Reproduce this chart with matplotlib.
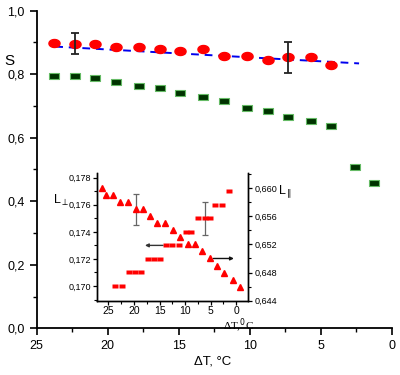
import numpy as np
import matplotlib
matplotlib.use("Agg")
import matplotlib.pyplot as plt
from matplotlib.path import Path
from matplotlib.ticker import FuncFormatter, MultipleLocator, FixedLocator

plt.rcParams['font.family'] = ['Liberation Sans', 'DejaVu Sans']

# ---------------- main data ----------------
dt_main = [23.76, 22.28, 20.9, 19.42, 17.8, 16.3, 14.9, 13.3, 11.8, 10.2, 8.7, 7.3, 5.7, 4.3]
s_circ = [0.897, 0.896, 0.894, 0.886, 0.885, 0.880, 0.874, 0.879, 0.858, 0.857, 0.846, 0.853, 0.853, 0.828]
err_x = [22.28, 7.3]
err_y = [0.896, 0.853]
err_e = [0.033, 0.048]
fit_x = [23.7, 2.3]
fit_y = [0.887, 0.834]

dt_sq = [23.76, 22.28, 20.9, 19.42, 17.8, 16.3, 14.9, 13.3, 11.8, 10.2, 8.7, 7.3, 5.7, 4.3, 2.6, 1.25]
s_sq = [0.793, 0.793, 0.788, 0.776, 0.764, 0.757, 0.740, 0.729, 0.716, 0.694, 0.683, 0.666, 0.654, 0.638, 0.507, 0.458]

# ---------------- inset data ----------------
dash_x = [23.7, 22.35, 20.9, 19.8, 18.6, 17.2, 16.1, 14.9, 13.7, 12.5, 11.1, 9.9, 8.8, 7.4, 6.2, 5.1, 4.1, 2.7, 1.4]
dash_y = [0.170, 0.170, 0.171, 0.171, 0.171, 0.172, 0.172, 0.172, 0.173, 0.173, 0.173, 0.174, 0.174,
          0.175, 0.175, 0.175, 0.176, 0.176, 0.177]
tri_x = [26.2, 25.5, 24.2, 22.7, 21.2, 19.7, 18.2, 16.9, 15.4, 13.9, 12.4, 10.9, 9.5, 8.0, 6.6, 5.2, 3.7, 2.4, 0.7, -0.8]
tri_y = [0.660, 0.659, 0.659, 0.658, 0.658, 0.657, 0.657, 0.656, 0.655, 0.655, 0.654, 0.653, 0.652, 0.652,
         0.651, 0.650, 0.649, 0.648, 0.647, 0.646]
tri_err = (19.7, 0.657, 0.0022)
dash_err = (6.2, 0.175, 0.00123)
arrow_left = ((13.8, 0.173), (18.4, 0.173))
arrow_right = ((5.0, 0.6500), (-0.1, 0.6500))

main_xticks = [25, 20, 15, 10, 5, 0]
main_yticks = [0.0, 0.2, 0.4, 0.6, 0.8, 1.0]
inset_xticks = [25, 20, 15, 10, 5, 0]
inset_lticks = [0.170, 0.172, 0.174, 0.176, 0.178]
inset_rticks = [0.644, 0.648, 0.652, 0.656, 0.660]

# custom markers
t = np.linspace(0, 2 * np.pi, 60)
ellipse = Path(np.column_stack([np.cos(t), 0.72 * np.sin(t)]), closed=True)
rect = Path([(-1, -0.66), (1, -0.66), (1, 0.66), (-1, 0.66), (-1, -0.66)], closed=True)
dash = Path([(-1, -0.55), (1, -0.55), (1, 0.55), (-1, 0.55), (-1, -0.55)], closed=True)

comma1 = FuncFormatter(lambda v, p: f"{v:.1f}".replace('.', ','))
comma3 = FuncFormatter(lambda v, p: f"{v:.3f}".replace('.', ','))

fig = plt.figure(figsize=(4, 3.75), dpi=100)
ax = fig.add_axes([0.0918, 0.1245, 0.8875, 0.847])
ax.set_xlim(25, 0)
ax.set_ylim(0, 1.0)
for s in ['top', 'right']:
    ax.spines[s].set_visible(False)
for s in ['left', 'bottom']:
    ax.spines[s].set_linewidth(1.3)
ax.xaxis.set_major_locator(FixedLocator(main_xticks))
ax.xaxis.set_minor_locator(MultipleLocator(2.5))
ax.yaxis.set_major_locator(FixedLocator(main_yticks))
ax.yaxis.set_minor_locator(MultipleLocator(0.1))
ax.yaxis.set_major_formatter(comma1)
ax.tick_params(which='major', length=5, width=1.2, labelsize=9, direction='out')
ax.tick_params(which='minor', length=3, width=1.0, direction='out')

ax.plot(fit_x, fit_y, color='#0000ee', lw=1.4, ls=(0, (4, 3)), zorder=2)
ax.plot(dt_main, s_circ, ls='none', marker=ellipse, ms=8, mfc='#ff0000', mec='#ff0000', zorder=3)
ax.errorbar(err_x, err_y, yerr=err_e, fmt='none', ecolor='#222222', elinewidth=1.3, capsize=3, capthick=1.3, zorder=4)
ax.plot(dt_sq, s_sq, ls='none', marker=rect, ms=6.5, mfc='#003300', mec='#66bb66', mew=0.8, zorder=3)

fig.text(4 / 400, 1 - 61 / 375, "S", fontsize=11, ha='left', va='center')
fig.text(213 / 400, 1 - 362 / 375, "ΔT, °C", fontsize=9.5, ha='center', va='center')

# ---------------- inset ----------------
axi = fig.add_axes([0.243, 0.198, 0.3775, 0.340])
axi.patch.set_alpha(0)
axi.set_xlim(27.2, -2.35)
axi.set_ylim(0.16891, 0.17833)
axr = axi.twinx()
axr.set_ylim(0.644, 0.6621)
for a in (axi, axr):
    a.spines['top'].set_visible(False)
    for s in ['left', 'right', 'bottom']:
        a.spines[s].set_linewidth(1.0)
axi.xaxis.set_major_locator(FixedLocator(inset_xticks))
axi.xaxis.set_minor_locator(MultipleLocator(2.5))
axi.yaxis.set_major_locator(FixedLocator(inset_lticks))
axi.yaxis.set_minor_locator(MultipleLocator(0.001))
axi.yaxis.set_major_formatter(comma3)
axr.yaxis.set_major_locator(FixedLocator(inset_rticks))
axr.yaxis.set_minor_locator(MultipleLocator(0.002))
axr.yaxis.set_major_formatter(comma3)
for a in (axi, axr):
    a.tick_params(which='major', length=3, width=0.9, labelsize=6.5, pad=1.5)
    a.tick_params(which='minor', length=2, width=0.8)
axi.tick_params(axis='x', labelsize=7.5, pad=0.8)

axi.plot(dash_x, dash_y, ls='none', marker=dash, ms=4.2, mfc='#ff0000', mec='none', zorder=3)
axr.plot(tri_x, tri_y, ls='none', marker='^', ms=5, mfc='#ff0000', mec='#ff0000', zorder=3)
axr.errorbar([tri_err[0]], [tri_err[1]], yerr=[tri_err[2]], fmt='none', ecolor='#666666',
             elinewidth=0.9, capsize=2.5, capthick=0.9)
axi.errorbar([dash_err[0]], [dash_err[1]], yerr=[dash_err[2]], fmt='none', ecolor='#666666',
             elinewidth=0.9, capsize=2.5, capthick=0.9)
axi.annotate("", xy=arrow_left[1], xytext=arrow_left[0],
             arrowprops=dict(arrowstyle='-|>', color='#333333', lw=1.0, mutation_scale=5))
axr.annotate("", xy=arrow_right[1], xytext=arrow_right[0],
             arrowprops=dict(arrowstyle='-|>', color='#111111', lw=1.0, mutation_scale=5))

fig.text(61 / 400, 1 - 200 / 375, r"L$_{\perp}$", fontsize=9, ha='center', va='center')
fig.text(285 / 400, 1 - 192 / 375, r"L$_{\parallel}$", fontsize=9, ha='center', va='center')
fig.text(238 / 400, 1 - 317 / 375, r"ΔT,$^{0}$C", fontsize=8, ha='center', va='top',
         family=['Liberation Serif', 'DejaVu Serif'])

fig.savefig("out.png", dpi=100)
